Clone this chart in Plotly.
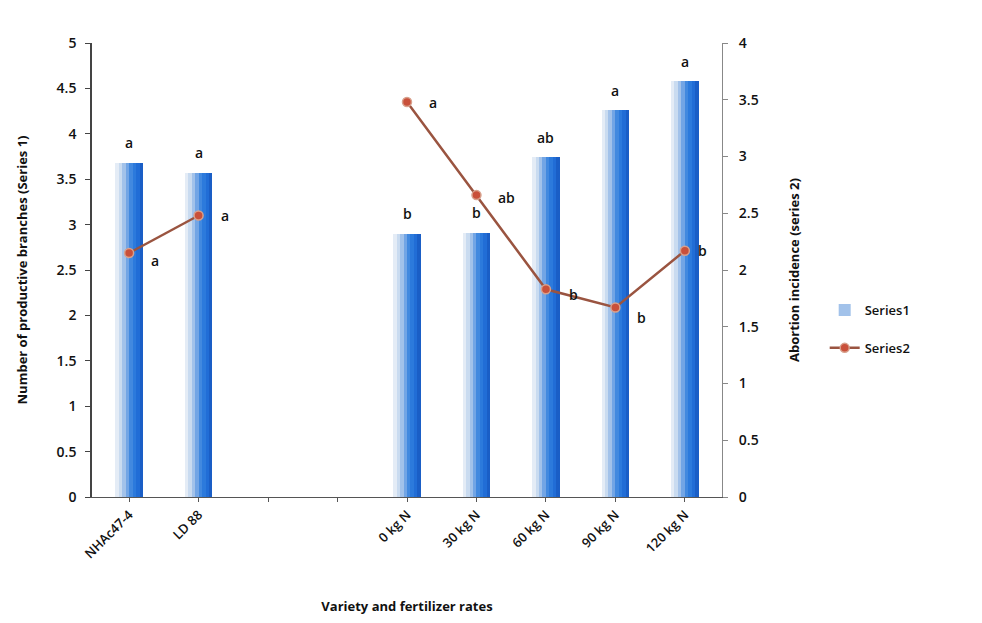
import plotly.graph_objects as go

# ---- data ----
categories = ["NHAc47-4", "LD 88", " ", "  ", "0 kg N", "30 kg N", "60 kg N", "90 kg N", "120 kg N"]
bar_cats = ["NHAc47-4", "LD 88", "0 kg N", "30 kg N", "60 kg N", "90 kg N", "120 kg N"]
series1 = [3.68, 3.57, 2.90, 2.91, 3.74, 4.26, 4.58]
series2 = [2.15, 2.48, 3.48, 2.66, 1.83, 1.67, 2.17]
bar_letters = ["a", "a", "b", "b", "ab", "a", "a"]
line_letters = ["a", "a", "a", "ab", "b", "b", "b"]
y1_ticks = [0, 0.5, 1, 1.5, 2, 2.5, 3, 3.5, 4, 4.5, 5]
y2_ticks = [0, 0.5, 1, 1.5, 2, 2.5, 3, 3.5, 4]

# line is broken across the empty categories
s2_map = dict(zip(bar_cats, series2))
line_y = [s2_map.get(c) for c in categories]

FONT = "Open Sans"
TICKFONT = dict(family=FONT, size=14, color="#111", weight=600)
fig = go.Figure()

# gradient-looking bars built from narrow overlaid strips
strip_colors = ["#e4ecf6", "#c9dbf0", "#a2c2ea", "#72a5e5", "#4289df", "#2c7adc", "#216dd6", "#1a5ec6"]
n = len(strip_colors)
total_w = 0.40
sw = total_w / n
for i, c in enumerate(strip_colors):
    fig.add_trace(go.Bar(
        x=bar_cats, y=series1, width=sw, offset=-total_w / 2 + i * sw,
        marker=dict(color=c, line=dict(width=0)),
        name="Series1", showlegend=(i == 2), legendgroup="s1",
        yaxis="y", hoverinfo="skip",
    ))

fig.add_trace(go.Scatter(
    x=categories, y=line_y, mode="lines+markers", name="Series2",
    connectgaps=False,
    line=dict(color="#9a5440", width=2.5),
    marker=dict(color="#c9503a", size=9, symbol="circle", line=dict(color="#d8a08c", width=1.5)),
    yaxis="y2",
))

ann = []
for c, v, t in zip(bar_cats, series1, bar_letters):
    ann.append(dict(x=c, y=v, xref="x", yref="y", text=t, showarrow=False, yshift=20,
                    font=dict(family=FONT, size=14, color="#111", weight=600)))
line_shift = [(26, -8), (26, 0), (26, 0), (30, -2), (28, -5), (26, -10), (18, 0)]
for c, v, t, (dx, dy) in zip(bar_cats, series2, line_letters, line_shift):
    ann.append(dict(x=c, y=v, xref="x", yref="y2", text=t, showarrow=False, xshift=dx, yshift=dy,
                    font=dict(family=FONT, size=14, color="#111", weight=600)))

fig.update_layout(
    width=982, height=623,
    margin=dict(l=84, r=268, t=35, b=134),
    paper_bgcolor="white", plot_bgcolor="white",
    barmode="overlay", bargap=0,
    font=dict(family=FONT, size=13, color="#111"),
    xaxis=dict(
        type="category", categoryorder="array", categoryarray=categories,
        tickangle=-45, showline=True, linecolor="#555", linewidth=1,
        ticks="outside", ticklen=4, tickcolor="#555", showgrid=False,
        tickfont=dict(family=FONT, size=13, color="#111", weight=600),
        title=dict(text="<b>Variety and fertilizer rates</b>", standoff=40,
                   font=dict(family=FONT, size=13, color="#111")),
    ),
    yaxis=dict(
        range=[0, 5], tickvals=y1_ticks, ticktext=[f"{v:g}" for v in y1_ticks],
        showline=True, linecolor="#444", linewidth=1.5, ticks="outside", ticklen=5,
        tickcolor="#444", showgrid=False, zeroline=False, ticklabelstandoff=6,
        tickfont=TICKFONT,
        title=dict(text="<b>Number of productive branches (Series 1)</b>", standoff=26,
                   font=dict(family=FONT, size=13, color="#111")),
    ),
    yaxis2=dict(
        range=[0, 4], tickvals=y2_ticks, ticktext=[f"{v:g}" for v in y2_ticks],
        overlaying="y", side="right", showline=True, linecolor="#888", linewidth=1,
        ticks="outside", ticklen=5, tickcolor="#888", showgrid=False, zeroline=False,
        ticklabelstandoff=8, tickfont=TICKFONT,
        title=dict(text="<b>Abortion incidence (series 2)</b>", standoff=32,
                   font=dict(family=FONT, size=13, color="#111")),
    ),
    legend=dict(x=1.163, y=0.37, xanchor="left", yanchor="middle",
                font=dict(family=FONT, size=13, color="#111", weight=600),
                bgcolor="rgba(0,0,0,0)", tracegroupgap=18),
    annotations=ann,
)

fig.write_html("out.html")
